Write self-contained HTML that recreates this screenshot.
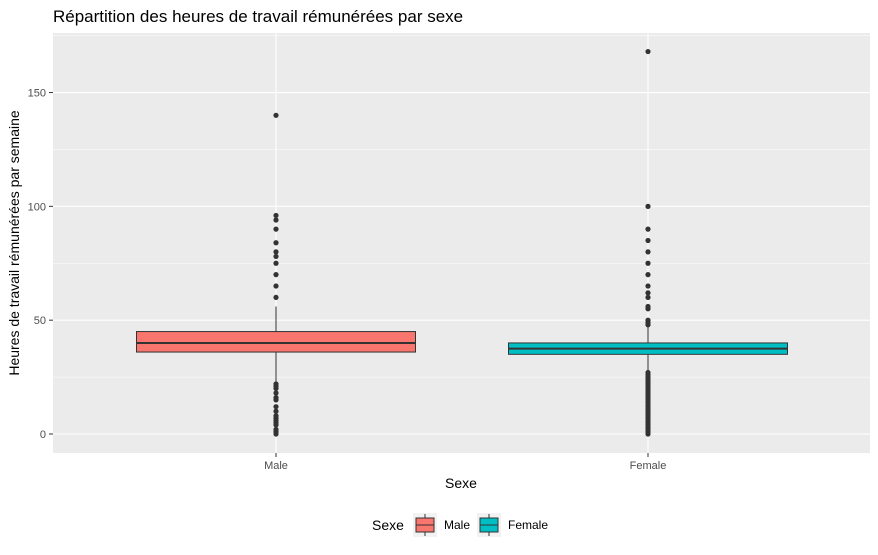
<!DOCTYPE html>
<html><head><meta charset="utf-8"><style>
body{margin:0;background:#fff;font-family:"Liberation Sans",Arial,sans-serif}
svg text{font-family:"Liberation Sans",Arial,sans-serif}
</style></head><body>
<svg id="chart" width="878" height="550" xmlns="http://www.w3.org/2000/svg">
<text x="53" y="22" font-size="17" fill="#000">Répartition des heures de travail rémunérées par sexe</text>
<rect x="53" y="33" width="817" height="420" fill="#ebebeb"/>
<g id="grid"></g><g id="marks"></g><g id="axes"></g>
<text x="461" y="488" font-size="14" text-anchor="middle">Sexe</text>
<text transform="translate(19,243) rotate(-90)" font-size="14" text-anchor="middle">Heures de travail rémunérées par semaine</text>
<g>
<text x="372" y="530" font-size="14">Sexe</text>
<g>
<rect x="413" y="513" width="24" height="24" fill="#f2f2f2"/>
<line x1="425" y1="514" x2="425" y2="536" stroke="#333"/>
<rect x="416" y="518" width="18" height="14" fill="#f8766d" stroke="#333"/>
<line x1="416" y1="525" x2="434" y2="525" stroke="#333"/>
<text x="444" y="529" font-size="12">Male</text></g>
<g>
<rect x="477" y="513" width="24" height="24" fill="#f2f2f2"/>
<line x1="489" y1="514" x2="489" y2="536" stroke="#333"/>
<rect x="480" y="518" width="18" height="14" fill="#00bfc4" stroke="#333"/>
<line x1="480" y1="525" x2="498" y2="525" stroke="#333"/>
<text x="508" y="529" font-size="12">Female</text></g>
</g>
</svg>
<script>
const categories=["Male","Female"];
const colors=["#f8766d","#00bfc4"];
const q1=[36,35];
const medians=[40,37.5];
const q3=[45,40];
const whiskerLow=[23,28];
const whiskerHigh=[56,48];
const outliersMale=[140,96,94,90,84,80,78,75,70,65,60,22,21,20,18,16,15,12,10,8,7,6,5,4,2,1,0];
const outliersFemale=[168,100,90,85,80,75,70,65,62,60,56,55,50,49,48,27,26,25,24,23,22,21,20,19,18,17,16,15,14,13,12,11,10,9,8,7,6,5,4,3,2,1,0];
const yTicks=[0,50,100,150];
const outliers=[outliersMale,outliersFemale];
const NS="http://www.w3.org/2000/svg";
const y=v=>434-v*2.2765;
const x=i=>276+i*372;
function mk(tag,attrs,parent){const e=document.createElementNS(NS,tag);for(const k in attrs)e.setAttribute(k,attrs[k]);document.getElementById(parent).appendChild(e);return e;}
// grid
for(let v=0;v<=175;v+=25){if(y(v)<33)continue;const major=v%50===0;
const g=mk('line',{x1:53,x2:870,y1:y(v),y2:y(v),stroke:'#fff','stroke-width':major?1.1:0.5},'grid');

}
categories.forEach((c,i)=>{const g=mk('line',{x1:x(i),x2:x(i),y1:33,y2:453,stroke:'#fff','stroke-width':1.1},'grid');

});
yTicks.forEach(v=>{mk('line',{x1:49,x2:53,y1:y(v),y2:y(v),stroke:'#333'},'axes');
const t=mk('text',{x:46,y:y(v)+4,'font-size':11,'text-anchor':'end',fill:'#4d4d4d'},'axes');t.textContent=v;

});
categories.forEach((c,i)=>{mk('line',{x1:x(i),x2:x(i),y1:453,y2:457,stroke:'#333'},'axes');
const t=mk('text',{x:x(i),y:469,'font-size':11,'text-anchor':'middle',fill:'#4d4d4d'},'axes');t.textContent=c;


const hw=139.5;
const w1=mk('line',{x1:x(i),x2:x(i),y1:y(q3[i]),y2:y(whiskerHigh[i]),stroke:'#333'},'marks');


const w2=mk('line',{x1:x(i),x2:x(i),y1:y(q1[i]),y2:y(whiskerLow[i]),stroke:'#333'},'marks');


const b=mk('rect',{x:x(i)-hw,y:y(q3[i]),width:hw*2,height:y(q1[i])-y(q3[i]),fill:colors[i],stroke:'#333','stroke-width':1},'marks');


const m=mk('line',{x1:x(i)-hw,x2:x(i)+hw,y1:y(medians[i]),y2:y(medians[i]),stroke:'#333','stroke-width':2},'marks');


outliers[i].forEach(v=>{const p=mk('circle',{cx:x(i),cy:y(v),r:2.6,fill:'#333'},'marks');

});
});
</script>
</body></html>
